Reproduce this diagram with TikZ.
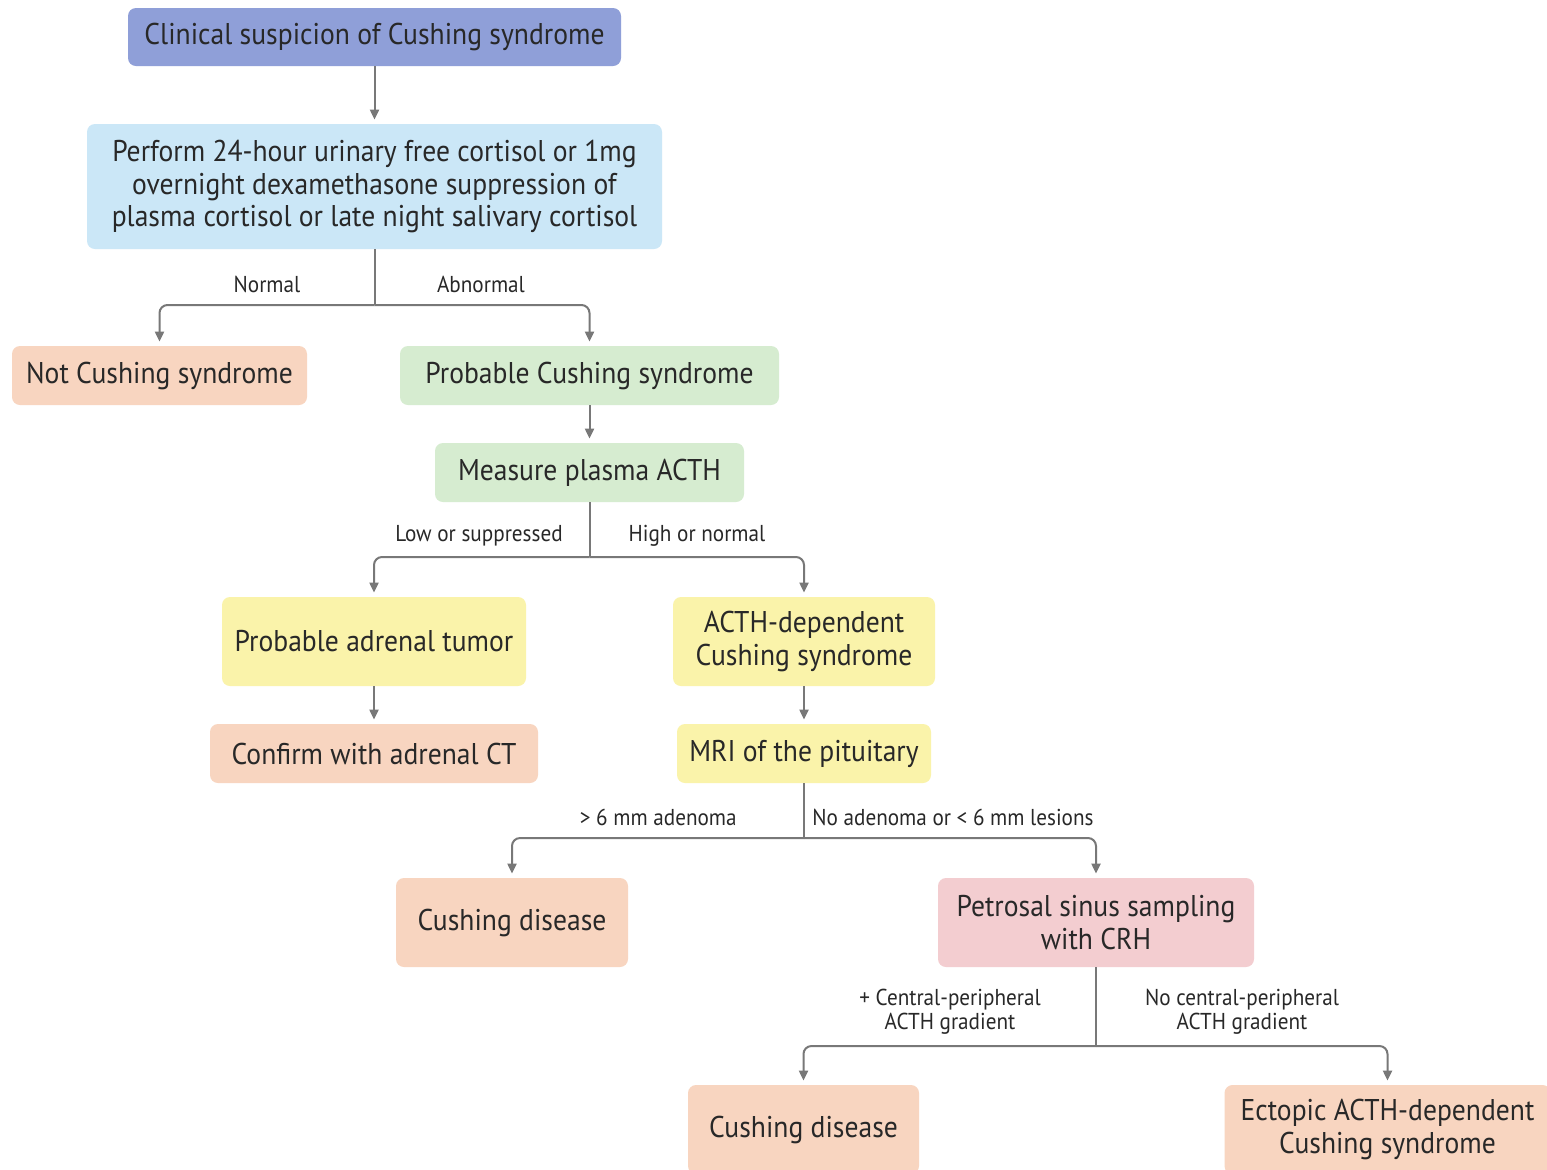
\documentclass[tikz,border=0pt]{standalone}
\usepackage{fontspec}
\setmainfont{PT Sans}[FakeStretch=0.92]
\usetikzlibrary{arrows.meta}
\definecolor{cblue}{RGB}{143,159,216}
\definecolor{clblue}{RGB}{203,231,247}
\definecolor{cpeach}{RGB}{248,213,192}
\definecolor{cgreen}{RGB}{214,236,208}
\definecolor{cyellow}{RGB}{250,243,170}
\definecolor{cpink}{RGB}{243,205,208}
\definecolor{cline}{RGB}{120,120,120}
\definecolor{ctext}{RGB}{40,40,40}
\tikzset{
  box/.style={rounded corners=4pt, inner sep=0pt, align=center, text=ctext,
    font=\fontsize{15}{16.3}\selectfont},
  lbl/.style={text=ctext, inner sep=0pt, align=center,
    font=\fontsize{11.5}{12}\selectfont},
  conn/.style={draw=cline, line width=1pt},
  arr/.style={conn, rounded corners=4pt, -{Triangle[length=5pt,width=4.5pt]}, shorten >=2pt},
}
\begin{document}
\begin{tikzpicture}[x=0.5pt,y=-0.5pt]
\useasboundingbox (0,0) rectangle (1547,1169);
\clip (0,0) rectangle (1547,1169);
\fill[white] (0,0) rectangle (1547,1169);

\node[box, fill=cblue, minimum width=246.5pt, minimum height=29pt] (clin) at (374.5,37) {Clinical suspicion of Cushing syndrome};
\node[box, fill=clblue, minimum width=287.5pt, minimum height=62.5pt] (perf) at (374.5,186.5) {Perform 24-hour urinary free cortisol or 1mg\\overnight dexamethasone suppression of\\plasma cortisol or late night salivary cortisol};
\node[box, fill=cpeach, minimum width=147.5pt, minimum height=29.5pt] (notcs) at (159.5,375.5) {Not Cushing syndrome};
\node[box, fill=cgreen, minimum width=189.5pt, minimum height=29.5pt] (probcs) at (589.5,375.5) {Probable Cushing syndrome};
\node[box, fill=cgreen, minimum width=154.5pt, minimum height=29.5pt] (acth) at (589.5,472.5) {Measure plasma ACTH};
\node[box, fill=cyellow, minimum width=152pt, minimum height=44.5pt] (adren) at (374,641.5) {Probable adrenal tumor};
\node[box, fill=cyellow, minimum width=131pt, minimum height=44.5pt] (actdep) at (804,641.5) {ACTH-dependent\\Cushing syndrome};
\node[box, fill=cpeach, minimum width=164pt, minimum height=29.5pt] (ct) at (374,753.5) {Confirm with adrenal CT};
\node[box, fill=cyellow, minimum width=127pt, minimum height=29.5pt] (mri) at (804,753.5) {MRI of the pituitary};
\node[box, fill=cpeach, minimum width=116pt, minimum height=44.5pt] (cd1) at (512,922.5) {Cushing disease};
\node[box, fill=cpink, minimum width=158pt, minimum height=44.5pt] (pss) at (1096,922.5) {Petrosal sinus sampling\\with CRH};
\node[box, fill=cpeach, minimum width=115.5pt, minimum height=44.5pt] (cd2) at (803.5,1129.5) {Cushing disease};
\node[box, fill=cpeach, minimum width=163pt, minimum height=44.5pt] (ect) at (1387.5,1129.5) {Ectopic ACTH-dependent\\Cushing syndrome};

% connectors
\draw[arr] (clin) -- (perf);
\coordinate (b1) at (374.5,305);
\draw[conn] (perf) -- (b1);
\draw[arr] (b1) -| (notcs);
\draw[arr] (b1) -| (probcs);
\node[lbl] (lnormal) at (267,284) {Normal};
\node[lbl] (labn) at (481,284) {Abnormal};

\draw[arr] (probcs) -- (acth);
\coordinate (b2) at (589.5,557);
\draw[conn] (acth) -- (b2);
\draw[arr] (b2) -| (adren);
\draw[arr] (b2) -| (actdep);
\node[lbl] (llow) at (479,536) {Low or suppressed};
\node[lbl] (lhigh) at (697,536) {High or normal};

\draw[arr] (adren) -- (ct);
\draw[arr] (actdep) -- (mri);
\coordinate (b3) at (804,838);
\draw[conn] (mri) -- (b3);
\draw[arr] (b3) -| (cd1);
\draw[arr] (b3) -| (pss);
\node[lbl, anchor=east] (lgt) at (737,817) {> 6 mm adenoma};
\node[lbl, anchor=west] (lno) at (812,817) {No adenoma or < 6 mm lesions};

\coordinate (b4) at (1096,1046);
\draw[conn] (pss) -- (b4);
\draw[arr] (b4) -| (cd2);
\draw[arr] (b4) -| (ect);
\node[lbl, font=\fontsize{11.5}{12}\selectfont] (lcp) at (950,1012) {+ Central-peripheral\\ACTH gradient};
\node[lbl, font=\fontsize{11.5}{12}\selectfont] (lncp) at (1242,1012) {No central-peripheral\\ACTH gradient};
\end{tikzpicture}
\end{document}
